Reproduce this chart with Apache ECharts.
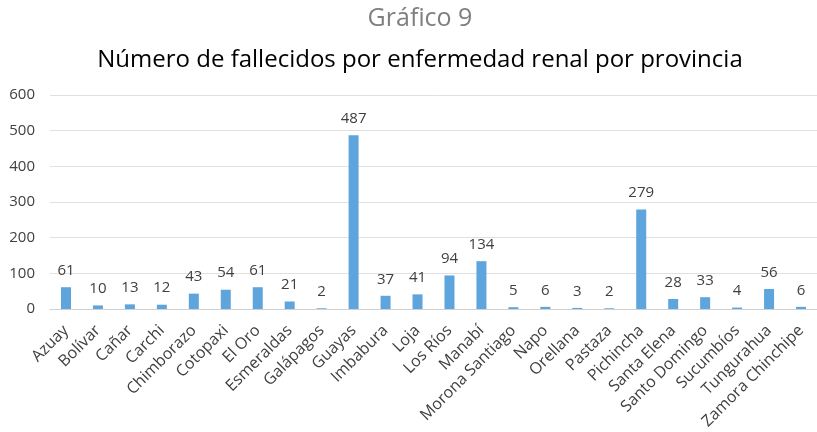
<!DOCTYPE html>
<html>
<head>
<meta charset="UTF-8">
<script src="https://cdn.jsdelivr.net/npm/echarts@6/dist/echarts.min.js"></script>
<style>
  html, body { margin: 0; padding: 0; background: #fff; }
  #chart { width: 817px; height: 432px; }
</style>
</head>
<body>
<div id="chart"></div>
<script>
// datos
const provincias = [
  'Azuay', 'Bolívar', 'Cañar', 'Carchi', 'Chimborazo', 'Cotopaxi', 'El Oro',
  'Esmeraldas', 'Galápagos', 'Guayas', 'Imbabura', 'Loja', 'Los Ríos', 'Manabí',
  'Morona Santiago', 'Napo', 'Orellana', 'Pastaza', 'Pichincha', 'Santa Elena',
  'Santo Domingo', 'Sucumbíos', 'Tungurahua', 'Zamora Chinchipe'
];
const fallecidos = [61, 10, 13, 12, 43, 54, 61, 21, 2, 487, 37, 41, 94, 134, 5, 6, 3, 2, 279, 28, 33, 4, 56, 6];
const yTicks = [0, 100, 200, 300, 400, 500, 600];

const FONT = '"Open Sans"';

const chart = echarts.init(document.getElementById('chart'));

chart.setOption({
  animation: false,
  title: [
    {
      text: 'Gráfico 9',
      left: 415,
      textAlign: 'center',
      top: 1,
      textStyle: { fontFamily: FONT, fontSize: 25, fontWeight: 'normal', color: '#7f7f7f' }
    },
    {
      text: 'Número de fallecidos por enfermedad renal por provincia',
      left: 415,
      textAlign: 'center',
      top: 43,
      textStyle: { fontFamily: FONT, fontSize: 24, fontWeight: 'normal', color: '#000' }
    }
  ],
  grid: { left: 50, top: 95, width: 773, bottom: 122 },
  xAxis: {
    type: 'category',
    data: provincias,
    axisLine: { lineStyle: { color: '#d0d0d0' } },
    axisTick: { show: false },
    axisLabel: {
      interval: 0,
      rotate: 45,
      margin: 19,
      fontFamily: FONT,
      fontSize: 16,
      color: '#404040'
    }
  },
  yAxis: {
    type: 'value',
    min: yTicks[0],
    max: yTicks[yTicks.length - 1],
    interval: 100,
    axisLine: { show: false },
    axisTick: { show: false },
    splitLine: { lineStyle: { color: '#e0e0e0' } },
    axisLabel: {
      fontFamily: FONT,
      fontSize: 15,
      color: '#404040',
      margin: 15
    }
  },
  series: [{
    type: 'bar',
    data: fallecidos,
    barWidth: 10,
    itemStyle: { color: '#5DA5DC' },
    label: {
      show: true,
      position: 'top',
      distance: 9,
      fontFamily: FONT,
      fontSize: 15,
      color: '#404040'
    }
  }]
});
</script>
</body>
</html>
